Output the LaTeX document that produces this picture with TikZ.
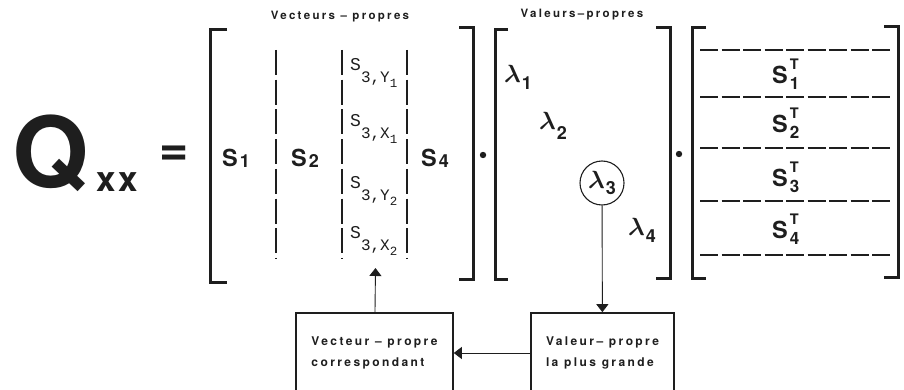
\documentclass[tikz,border=0pt]{standalone}
\usepackage{fontspec}
\usepackage{bm}
\setmainfont{TeX Gyre Heros}
\newfontfamily\lsfont[LetterSpace=20]{TeX Gyre Heros}
\newfontfamily\monofnt{Liberation Mono}
\usetikzlibrary{arrows.meta}
\definecolor{ink}{HTML}{1E1E1E}
\newcommand\SBig[1]{{\bfseries\fontsize{23.5}{23.5}\selectfont S}\kern2pt\raisebox{-1pt}{\bfseries\fontsize{18}{18}\selectfont #1}}
\newcommand\STr[1]{{\bfseries\fontsize{23.5}{23.5}\selectfont S}\kern2pt\rlap{\raisebox{14pt}{\bfseries\fontsize{14.5}{14.5}\selectfont T}}\raisebox{-6pt}{\bfseries\fontsize{17}{17}\selectfont #1}}
\newcommand\LamB[2]{{\fontsize{25}{25}\selectfont$\bm{\lambda}$}\kern1pt\raisebox{-#2pt}{\bfseries\fontsize{18}{18}\selectfont #1}}
\newcommand\SThree[2]{{\monofnt\fontsize{18}{18}\selectfont S}\raisebox{-12pt}{\monofnt\fontsize{16}{16}\selectfont 3,#1\raisebox{-5pt}{\fontsize{12.5}{12.5}\selectfont #2}}}
\tikzset{
  brk/.style={line width=3pt, ink},
  vdash/.style={line width=1.4pt, ink, dash pattern=on 25pt off 4.7pt},
  hdash/.style={line width=1.4pt, ink, dash pattern=on 18pt off 3.5pt},
  lbl/.style={inner sep=0pt, text=ink},
  boxnode/.style={draw=ink, line width=1.6pt, minimum height=80pt, inner sep=0pt, align=left, text=ink,
     font=\lsfont\bfseries\fontsize{12}{21}\selectfont},
  conn/.style={line width=0.9pt, ink, -{Triangle[width=12pt,length=8pt]}},
}
\begin{document}
\begin{tikzpicture}[x=1pt,y=-1pt]
\useasboundingbox (0,0) rectangle (904,390);
\clip (0,0) rectangle (904,390);
\fill[white] (0,0) rectangle (904,390);
% left-hand side
\node[lbl, anchor=base west] (Q) at (12,188) {\bfseries\fontsize{98}{98}\selectfont Q};
\node[lbl, anchor=base west] (xx) at (96,191) {\bfseries\fontsize{35}{35}\selectfont x\kern3pt x};
\node[lbl] (eq) at (174,156) {\bfseries\fontsize{50}{50}\selectfont =};
% titles
\node[lbl] (t1) at (340,17) {\lsfont\bfseries\fontsize{11.5}{11.5}\selectfont Vecteurs – propres};
\node[lbl] (t2) at (582,15) {\lsfont\bfseries\fontsize{11.5}{11.5}\selectfont Valeurs–propres};
% bracket 1
\draw[brk] (227,30) -- (210,30) -- (210,282) -- (227,282);
\draw[brk] (459,28) -- (473,28) -- (473,279) -- (459,279);
\draw[vdash] (276,50) -- (276,258);
\draw[vdash] (342,50) -- (342,258);
\draw[vdash] (407,50) -- (407,258);
\node[lbl, anchor=base west] (s1) at (222,167) {\SBig{1}};
\node[lbl, anchor=base west] (s2) at (291,167) {\SBig{2}};
\node[lbl, anchor=base west] (s4) at (421,167) {\SBig{4}};
\node[lbl, anchor=base west] (s3a) at (350,71) {\SThree{Y}{1}};
\node[lbl, anchor=base west] (s3b) at (350,127) {\SThree{X}{1}};
\node[lbl, anchor=base west] (s3c) at (350,189) {\SThree{Y}{2}};
\node[lbl, anchor=base west] (s3d) at (350,238) {\SThree{X}{2}};
\coordinate (c3) at (375.5,268);
% dot
\fill[ink] (483,155) circle (3.2pt);
% bracket 2
\draw[brk] (508,30) -- (495,30) -- (495,279) -- (508,279);
\draw[brk] (656,28) -- (670,28) -- (670,278) -- (656,278);
\node[lbl, anchor=base west] (l1) at (504,83) {\LamB{1}{7}};
\node[lbl, anchor=base west] (l2) at (539,130) {\LamB{2}{10}};
\node[lbl, anchor=base west] (l4) at (628,235) {\LamB{4}{7}};
\node[draw=ink, line width=1.1pt, circle, minimum size=44pt, inner sep=0pt, text=ink] (l3) at (602,183) {\LamB{3}{6}};
% dot
\fill[ink] (679,154) circle (3.2pt);
% bracket 3
\draw[brk] (706,28) -- (692,28) -- (692,278) -- (706,278);
\draw[brk] (884,27) -- (898,27) -- (898,277) -- (884,277);
\foreach \yy in {50,97,148,201,255} \draw[hdash] (700,\yy) -- (891,\yy);
\node[lbl, anchor=base west] (st1) at (772,84) {\STr{1}};
\node[lbl, anchor=base west] (st2) at (772,133) {\STr{2}};
\node[lbl, anchor=base west] (st3) at (772,186) {\STr{3}};
\node[lbl, anchor=base west] (st4) at (772,238) {\STr{4}};
% boxes
\node[boxnode, minimum width=157pt] (vec) at (374.5,353) {Vecteur – propre\\correspondant};
\node[boxnode, minimum width=143pt] (val) at (602.5,353) {Valeur– propre\\la plus grande};
% connectors
\draw[conn] (l3) -- (val);
\draw[conn] (val) -- (vec);
\draw[conn] (vec) -- (c3);
\end{tikzpicture}
\end{document}
